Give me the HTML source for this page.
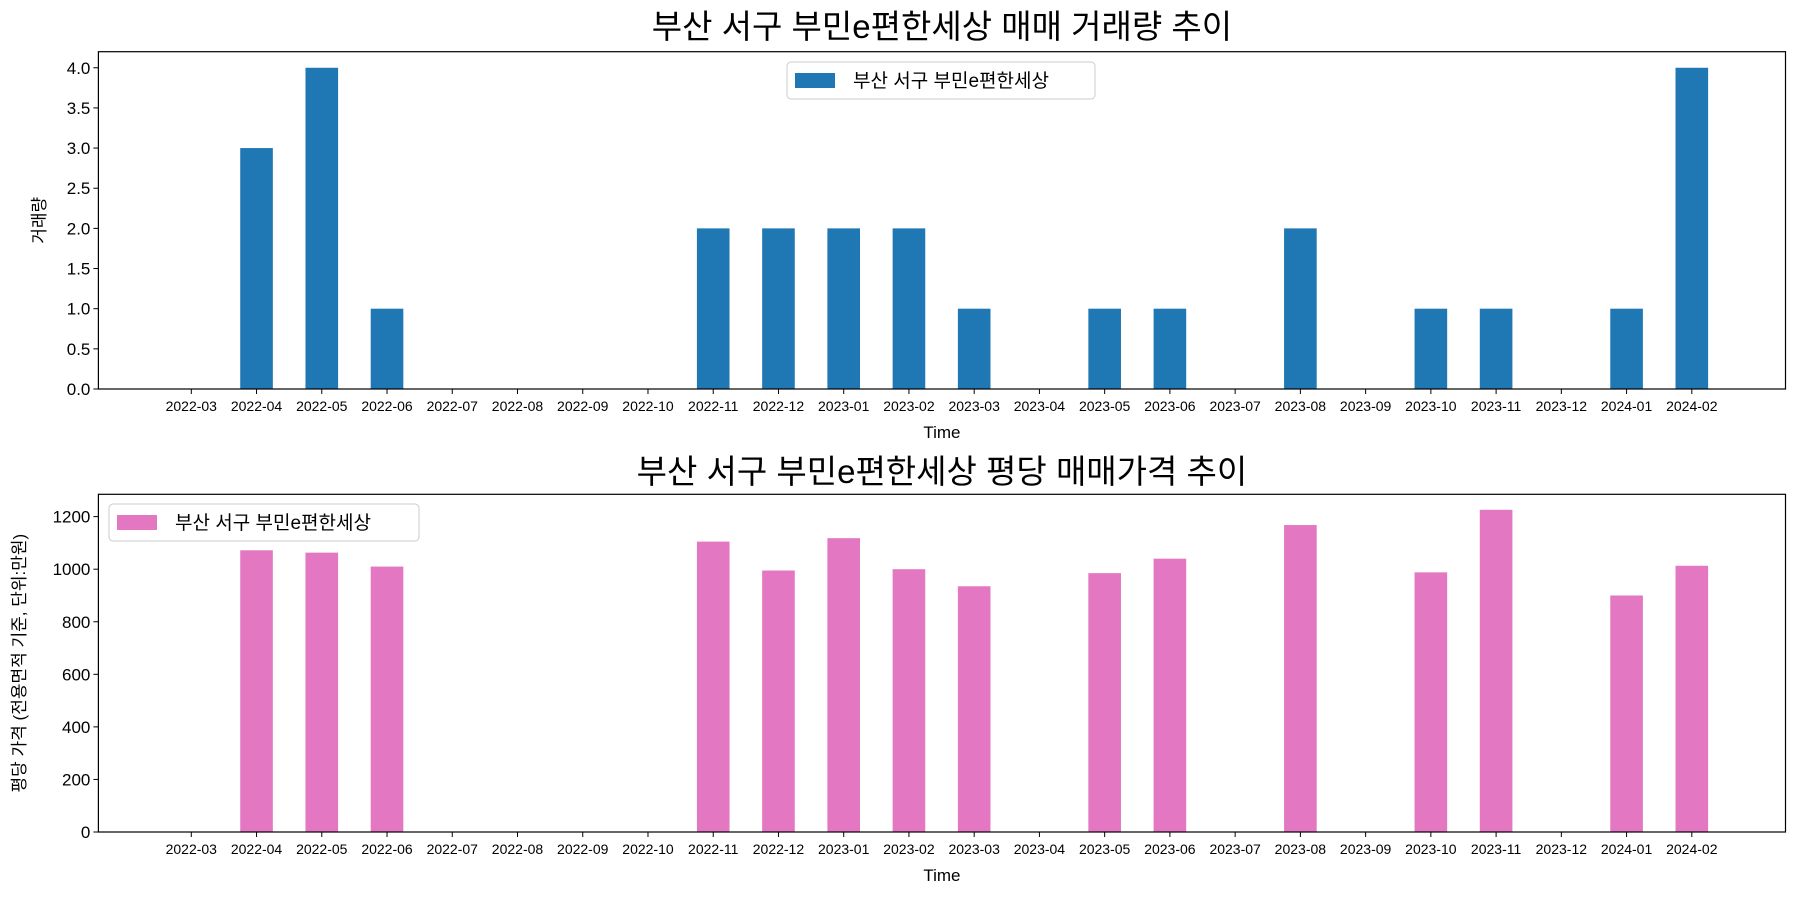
<!DOCTYPE html>
<html><head><meta charset="utf-8"><style>
body{margin:0;background:#fff}
svg text{font-family:"Liberation Sans","Noto Sans CJK KR",sans-serif;fill:#000}
</style></head><body>
<svg id="c" width="1800" height="900" xmlns="http://www.w3.org/2000/svg"></svg>
<script>
const months=["2022-03","2022-04","2022-05","2022-06","2022-07","2022-08","2022-09","2022-10","2022-11","2022-12","2023-01","2023-02","2023-03","2023-04","2023-05","2023-06","2023-07","2023-08","2023-09","2023-10","2023-11","2023-12","2024-01","2024-02"];
const volume=[0,3,4,1,0,0,0,0,2,2,2,2,1,0,1,1,0,2,0,1,1,0,1,4];
const price=[0,1072,1063,1010,0,0,0,0,1105,995,1118,1000,935,0,985,1040,0,1168,0,988,1226,0,900,1013];
const volTicks=["0.0","0.5","1.0","1.5","2.0","2.5","3.0","3.5","4.0"];
const priceTicks=["0","200","400","600","800","1000","1200"];
const NS="http://www.w3.org/2000/svg";
const svg=document.getElementById('c');
function mk(tag,attrs,parent,text){const e=document.createElementNS(NS,tag);for(const k in attrs)e.setAttribute(k,attrs[k]);if(text!==undefined)e.textContent=text;(parent||svg).appendChild(e);return e;}
const L=98.4,R=1785.5,x0=191.3,dx=65.24;
function xs(i){return x0+i*dx;}
function panel(o){
  const g=mk('g',{});
  
  
  const ys=v=>o.bottom-(v/o.ymax)*(o.bottom-o.top);
  o.vals.forEach((v,i)=>{if(v<=0)return;const b=mk('rect',{x:xs(i)-dx*0.25,y:ys(v),width:dx*0.5,height:o.bottom-ys(v),fill:o.color},g);
    
    });
  const ax=mk('rect',{x:L,y:o.top,width:R-L,height:o.bottom-o.top,fill:'none',stroke:'#000','stroke-width':1.2},g);
  
  
  months.forEach((m,i)=>{mk('line',{x1:xs(i),x2:xs(i),y1:o.bottom,y2:o.bottom+5,stroke:'#000'},g);
    const t=mk('text',{x:xs(i),y:o.bottom+22,'text-anchor':'middle','font-size':14},g,m);
    
    });
  o.ticks.forEach(tk=>{const v=parseFloat(tk);const y=ys(v);mk('line',{x1:L-5,x2:L,y1:y,y2:y,stroke:'#000'},g);
    const t=mk('text',{x:L-8,y:y+6,'text-anchor':'end','font-size':17},g,tk);
    
    });
  const xt=mk('text',{x:(L+R)/2,y:o.bottom+49,'text-anchor':'middle','font-size':17},g,'Time');
  
  
  const cy=(o.top+o.bottom)/2;
  const yt=mk('text',{x:0,y:0,'text-anchor':'middle','font-size':17,transform:`translate(${o.ylx},${cy}) rotate(-90)`},g,o.ylabel);
  
  
  const tt=mk('text',{x:(L+R)/2,y:o.titleY,'text-anchor':'middle','font-size':33},g,o.title);
  
  
  const lg=mk('g',{},g);
  
  
  mk('rect',{x:o.lg[0],y:o.lg[1],width:o.lg[2],height:37,rx:4,fill:'#fff',stroke:'#ccc'},lg);
  mk('rect',{x:o.lg[0]+8,y:o.lg[1]+11,width:40,height:15,fill:o.color},lg);
  mk('text',{x:o.lg[0]+66,y:o.lg[1]+25,'font-size':19},lg,'부산 서구 부민e편한세상');
}
panel({name:'volume-panel',vals:volume,ticks:volTicks,ymax:4.2,top:51.7,bottom:389,color:'#1f77b4',ylabel:'거래량',ylx:45,title:'부산 서구 부민e편한세상 매매 거래량 추이',titleY:38,lg:[787,62,308]});
panel({name:'price-panel',vals:price,ticks:priceTicks,ymax:1285,top:494.3,bottom:832,color:'#e377c2',ylabel:'평당 가격 (전용면적 기준, 단위:만원)',ylx:25,title:'부산 서구 부민e편한세상 평당 매매가격 추이',titleY:483,lg:[109,504,310]});
</script>
</body></html>
